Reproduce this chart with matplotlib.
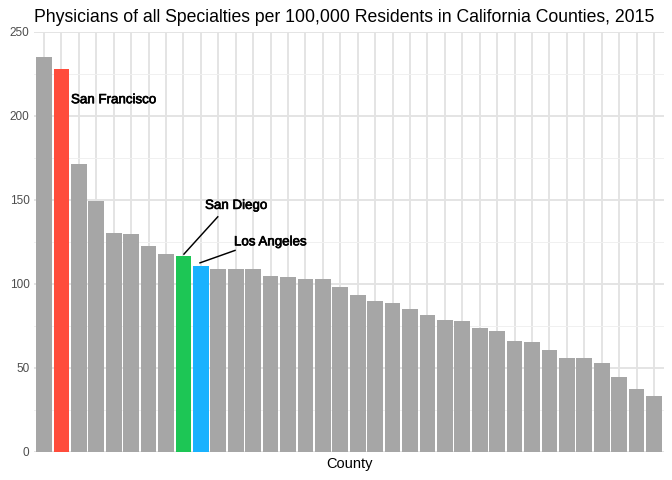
import numpy as np
import matplotlib
matplotlib.use("Agg")
import matplotlib.pyplot as plt
import matplotlib.patheffects as pe

plt.rcParams['font.family'] = ['Liberation Sans', 'DejaVu Sans']

# physicians per 100,000 residents, sorted high to low (county names not shown on the chart)
counties = ["County %02d" % (i + 1) for i in range(36)]
counties[1] = "San Francisco"
counties[8] = "San Diego"
counties[9] = "Los Angeles"
rate = [235.0, 227.6, 171.0, 149.1, 130.3, 129.7, 122.4, 117.8, 116.4, 110.5,
        108.7, 108.7, 108.7, 104.5, 103.9, 102.7, 102.7, 98.0, 93.2, 89.6,
        88.4, 84.9, 81.3, 78.3, 77.7, 73.6, 71.8, 65.9, 65.3, 60.5,
        55.7, 55.7, 52.8, 44.4, 37.3, 33.1]
highlight = {"San Francisco": "#ff4c3b", "San Diego": "#1dc655", "Los Angeles": "#19b2fe"}

fig = plt.figure(figsize=(7, 5), dpi=96)
ax = fig.add_axes([0.0499, 0.059, 0.9389, 0.875])

x = np.arange(len(counties))
cols = [highlight.get(c, "#a6a6a6") for c in counties]
ax.bar(x, rate, width=0.9, color=cols, zorder=2)

ax.set_xlim(-0.6, len(counties) - 0.4)
ax.set_ylim(0, 250)
ax.set_xticks(x)
ax.set_yticks(np.arange(0, 251, 50))
ax.set_yticks(np.arange(25, 250, 50), minor=True)
ax.tick_params(axis='x', length=0, labelbottom=False)
ax.tick_params(axis='y', length=0, labelsize=8.8, labelcolor="#4d4d4d", pad=3)
ax.tick_params(axis='y', which='minor', length=0)
for s in ax.spines.values():
    s.set_visible(False)
ax.grid(True, which='major', color="#e3e3e3", linewidth=1.42, zorder=0)
ax.grid(True, which='minor', axis='y', color="#f0f0f0", linewidth=0.71, zorder=0)
ax.set_axisbelow(True)

ax.set_xlabel("County", fontsize=11, labelpad=4)
ax.set_title("Physicians of all Specialties per 100,000 Residents in California Counties, 2015",
             fontsize=13.2, loc='left', pad=7)

fx = [pe.withStroke(linewidth=0.5, foreground="black")]
ax.text(1.55, 209.2, "San Francisco", fontsize=10, ha='left', va='center', path_effects=fx)
ax.text(9.24, 146.3, "San Diego", fontsize=10, ha='left', va='center', path_effects=fx)
ax.text(10.9, 124.6, "Los Angeles", fontsize=10, ha='left', va='center', path_effects=fx)
ax.plot([8.03, 9.97], [117.6, 139.8], color="black", linewidth=1.1, zorder=3)
ax.plot([8.95, 10.96], [112.4, 119.8], color="black", linewidth=1.1, zorder=3)

fig.savefig("out.png", dpi=96)
